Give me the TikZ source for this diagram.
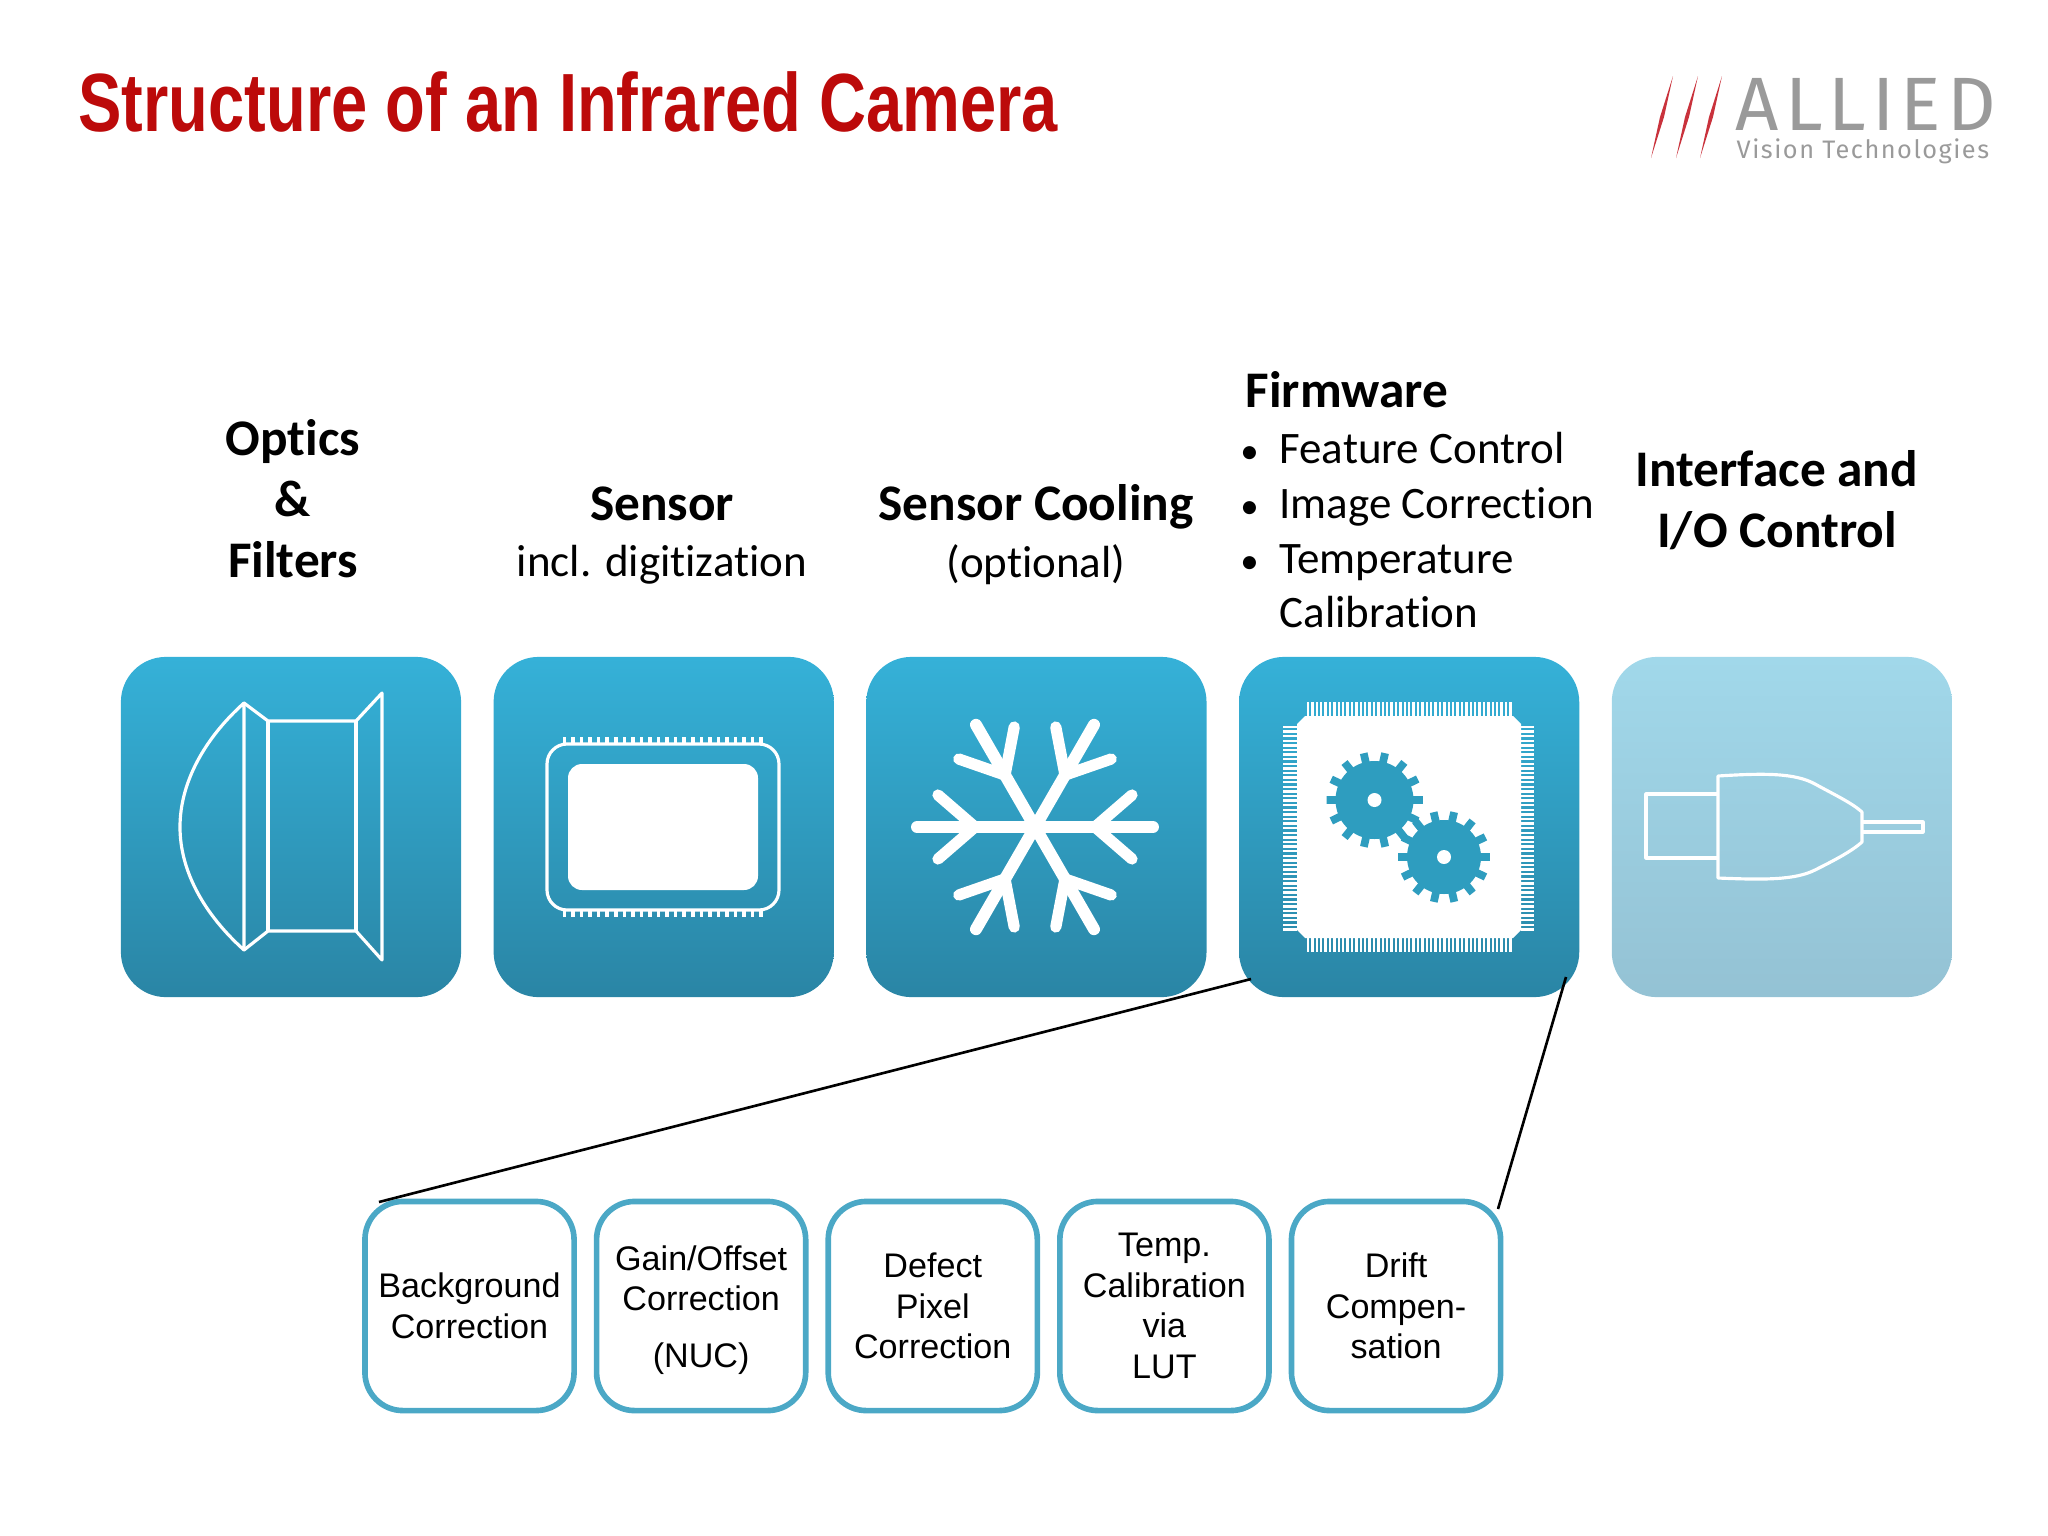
\documentclass[tikz,border=0pt]{standalone}
\usepackage{fontspec}
\setmainfont[Ligatures=CommonOff]{Carlito}
\newfontfamily\arialfont{Liberation Sans}
\newfontfamily\logofont[LetterSpace=8]{Fira Sans}
\newfontfamily\logosub[LetterSpace=6]{Fira Sans}
\usetikzlibrary{positioning}

\definecolor{titlered}{HTML}{BC0A0A}
\definecolor{tiletop}{HTML}{35B1D8}
\definecolor{tilebot}{HTML}{2A85A5}
\definecolor{paletop}{HTML}{A1D8EA}
\definecolor{palebot}{HTML}{94C2D4}
\definecolor{gearblue}{HTML}{2E9DBF}
\definecolor{stepline}{HTML}{4BA8C6}
\definecolor{logogray}{HTML}{9A9A9A}
\definecolor{logored}{HTML}{C9323C}

\begin{document}
\begin{tikzpicture}[
  x=0.01cm, y=-0.01cm,
  node distance=0.325cm,
  tile/.style={minimum size=3.40cm, inner sep=0pt, outer sep=0pt, rounded corners=0.45cm,
    top color=tiletop, bottom color=tilebot},
  paletile/.style={tile, top color=paletop, bottom color=palebot},
  stepbox/.style={draw=stepline, line width=1.6pt, rounded corners=0.38cm, minimum size=2.09cm,
    inner sep=0pt, outer sep=0pt, align=center, font=\arialfont\fontsize{9.7}{11.5}\selectfont},
  head/.style={align=center, font=\fontsize{14.6}{17.3}\selectfont\bfseries},
  sub/.style={align=center, font=\fontsize{12.8}{15.6}\selectfont},
  icon/.style={draw=white, line width=0.9pt, line join=round},
  link/.style={draw=black, line width=0.75pt}
]
  \useasboundingbox (0,0) rectangle (2048,1536);

  \node[anchor=base west, xscale=0.787, inner sep=0pt, text=titlered,
    font=\arialfont\fontsize{23.5}{28}\selectfont\bfseries] (title) at (78,131) {Structure of an Infrared Camera};

  \foreach \sx in {0,25,49}
    \fill[logored] (1651+\sx,158) -- (1660+\sx,117) -- (1673+\sx,76) -- (1664+\sx,117) -- cycle;
  \node[anchor=base west, inner sep=0pt, text=logogray, font=\logofont\fontsize{21.5}{24}\selectfont] (allied) at (1735,130) {ALLIED};
  \node[anchor=base west, inner sep=0pt, text=logogray, font=\logosub\fontsize{7.2}{9}\selectfont] (vision) at (1736,158) {Vision Technologies};

  \node[tile] (optics) at (291,827) {};
  \node[tile, right=of optics] (sensor) {};
  \node[tile, right=of sensor] (cooling) {};
  \node[tile, right=of cooling] (firmware) {};
  \node[paletile, right=of firmware] (iface) {};

  \node[head] (opticstxt) at (293,499) {Optics\\\&\\Filters};
  \node[head] (sensortxt) at (662,504) {Sensor};
  \node[sub] (sensorsub) at (662,565) {incl. digitization};
  \node[head] (coolingtxt) at (1036,507) {Sensor Cooling};
  \node[sub] (coolingsub) at (1036,565) {(optional)};
  \node[anchor=north west, align=left, inner sep=0pt, font=\fontsize{12.8}{15.6}\selectfont] (firmwaretxt) at (1245,371) {%
    {\fontsize{14.6}{17}\selectfont\bfseries Firmware}\\[0.2pt]
    \makebox[9.6pt][l]{\hspace*{-1.5pt}\fontsize{10.5}{10}\selectfont\textbullet}Feature Control\\
    \makebox[9.6pt][l]{\hspace*{-1.5pt}\fontsize{10.5}{10}\selectfont\textbullet}Image Correction\\
    \makebox[9.6pt][l]{\hspace*{-1.5pt}\fontsize{10.5}{10}\selectfont\textbullet}Temperature\\
    \makebox[9.6pt][l]{}Calibration};
  \node[head] (ifacetxt) at (1777,500) {Interface and\\I/O Control};

  % lens
  \draw[icon] (244,703) .. controls (205,738) and (180,782) .. (180,827)
    .. controls (180,872) and (205,915) .. (244,950) -- cycle;
  \draw[icon] (244,703) -- (268,721) -- (356,721) -- (382,693) -- (382,960) -- (356,931) -- (268,931) -- (244,950);
  \draw[icon] (268,721) -- (268,931);
  \draw[icon] (356,721) -- (356,931);

  % sensor
  \draw[icon, rounded corners=0.2cm] (547,744) rectangle (779,910);
  \fill[white, rounded corners=0.14cm] (568,764) rectangle (758,890);
  \foreach \px in {0,...,23} {
    \draw[white, line width=1pt] (564.5+\px*8.55,737) -- (564.5+\px*8.55,744);
    \draw[white, line width=1pt] (564.5+\px*8.55,910) -- (564.5+\px*8.55,917);
  }

  % snowflake
  \foreach \ang in {0,60,...,300} {
    \begin{scope}[shift={(1035,827)}, rotate=\ang]
      \draw[white, line width=3.4pt, line cap=round] (0,0) -- (118,0);
      \draw[white, line width=3.2pt, line cap=round] (97,-32) -- (60,0) -- (97,32);
    \end{scope}
  }

  % chip
  \fill[white] (1305,716) -- (1513,716) -- (1521,724) -- (1521,930) -- (1513,938) -- (1305,938) -- (1297,930) -- (1297,724) -- cycle;
  \foreach \px in {0,...,46} {
    \draw[white, line width=0.65pt] (1308+\px*4.4,702) -- (1308+\px*4.4,716);
    \draw[white, line width=0.65pt] (1308+\px*4.4,938) -- (1308+\px*4.4,952);
  }
  \foreach \py in {0,...,44} {
    \draw[white, line width=0.65pt] (1283,727+\py*4.6) -- (1297,727+\py*4.6);
    \draw[white, line width=0.65pt] (1521,727+\py*4.6) -- (1534,727+\py*4.6);
  }
  \foreach \cx/\cy/\rad in {1374.5/800/39, 1444/857/37} {
    \fill[gearblue] (\cx,\cy) circle (\rad);
    \foreach \ang in {0,25.7,...,340}
      \draw[gearblue, line width=2.2pt] (\cx,\cy) ++(\ang:\rad-1) -- ++(\ang:10);
    \fill[white] (\cx,\cy) circle (7);
  }

  % plug
  \draw[icon] (1718,794) -- (1646,794) -- (1646,858) -- (1718,858);
  \draw[icon] (1718,776) .. controls (1765,773) and (1795,773) .. (1815,784)
    .. controls (1835,795) and (1852,803) .. (1862,812) -- (1862,842)
    .. controls (1852,851) and (1835,860) .. (1815,870)
    .. controls (1795,880) and (1765,880) .. (1718,878) -- cycle;
  \draw[icon] (1862,822) -- (1923,822) -- (1923,832) -- (1862,832);

  \node[stepbox] (bgcorr) at (469.5,1306) {Background\\Correction};
  \node[stepbox, right=0.225cm of bgcorr] (gaincorr) {\rule{0pt}{9.2pt}Gain/Offset\\Correction\\[4.5pt](NUC)};
  \node[stepbox, right=0.225cm of gaincorr] (defect) {Defect\\Pixel\\Correction};
  \node[stepbox, right=0.225cm of defect] (tempcal) {Temp.\\Calibration\\via\\LUT};
  \node[stepbox, right=0.225cm of tempcal] (drift) {Drift\\Compen-\\sation};

  \coordinate (firmleft) at (1251,979);
  \coordinate (firmright) at (1566,977);
  \coordinate (bgend) at (379,1202);
  \coordinate (driftend) at (1498,1209);
  \draw[link] (firmleft) -- (bgend);
  \draw[link] (firmright) -- (driftend);
\end{tikzpicture}
\end{document}
